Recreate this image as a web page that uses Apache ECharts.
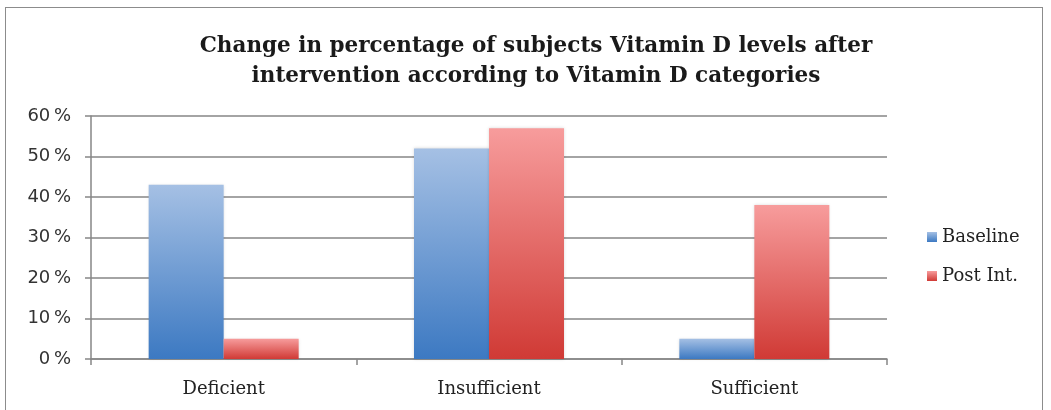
<!DOCTYPE html>
<html>
<head>
<meta charset="utf-8">
<script src="https://cdn.jsdelivr.net/npm/echarts@6/dist/echarts.min.js"></script>
<style>
  html, body { margin: 0; padding: 0; background: #fff; }
  .frame {
    position: absolute; left: 5px; top: 7px; width: 1038px; height: 410px;
    border: 1px solid #8c8c8c; border-bottom: none; box-sizing: border-box;
  }
  #chart { position: absolute; left: 0; top: 0; width: 1051px; height: 410px; }
</style>
</head>
<body>
<div class="frame"></div>
<div id="chart"></div>
<script>
const categories = ['Deficient', 'Insufficient', 'Sufficient']
const baseline = [43, 52, 5]
const postInt = [5, 57, 38]
const yTicks = [0, 10, 20, 30, 40, 50, 60]

const grad = (top, bottom) => new echarts.graphic.LinearGradient(0, 0, 0, 1, [
  { offset: 0, color: top },
  { offset: 1, color: bottom },
])

const chart = echarts.init(document.getElementById('chart'))
chart.setOption({
  animation: false,
  title: {
    text: 'Change in percentage of subjects Vitamin D levels after\nintervention according to Vitamin D categories',
    left: 531,
    top: 26,
    textAlign: 'center',
    textStyle: {
      fontFamily: 'DejaVu Serif',
      fontWeight: 'bold',
      fontSize: 21.5,
      lineHeight: 30,
      color: '#1a1a1a',
    },
  },
  legend: {
    orient: 'vertical',
    left: 922,
    top: 223,
    itemWidth: 10,
    itemHeight: 10,
    itemGap: 21,
    icon: 'rect',
    textStyle: { fontFamily: 'DejaVu Serif', fontSize: 18, color: '#222' },
    data: ['Baseline', 'Post Int.'],
  },
  grid: { left: 91, right: 164, top: 116, bottom: 51 },
  xAxis: {
    type: 'category',
    data: categories,
    axisLine: { lineStyle: { color: '#868686', width: 1.5 } },
    axisTick: { show: true, length: 6, lineStyle: { color: '#868686', width: 1.5 } },
    axisLabel: { fontFamily: 'DejaVu Serif', fontSize: 18, color: '#222', margin: 21 },
  },
  yAxis: {
    type: 'value',
    min: 0,
    max: 60,
    interval: 10,
    axisLine: { show: true, lineStyle: { color: '#868686', width: 1.5 } },
    axisTick: { show: true, length: 6, lineStyle: { color: '#868686', width: 1.5 } },
    axisLabel: {
      fontFamily: 'DejaVu Sans',
      fontSize: 18,
      color: '#333',
      margin: 20,
      formatter: (v) => (yTicks.includes(v) ? v + '\u2009%' : ''),
    },
    splitLine: { lineStyle: { color: '#868686', width: 1.5 } },
  },
  series: [
    {
      name: 'Baseline',
      type: 'bar',
      data: baseline,
      barWidth: 75,
      barGap: '0%',
      itemStyle: {
        color: grad('#a5c0e4', '#3c79c2'),
        shadowColor: 'rgba(0,0,0,0.15)',
        shadowBlur: 3,
      },
    },
    {
      name: 'Post Int.',
      type: 'bar',
      data: postInt,
      barWidth: 75,
      itemStyle: {
        color: grad('#f79c9c', '#d03a35'),
        shadowColor: 'rgba(0,0,0,0.15)',
        shadowBlur: 3,
      },
    },
  ],
})
</script>
</body>
</html>
